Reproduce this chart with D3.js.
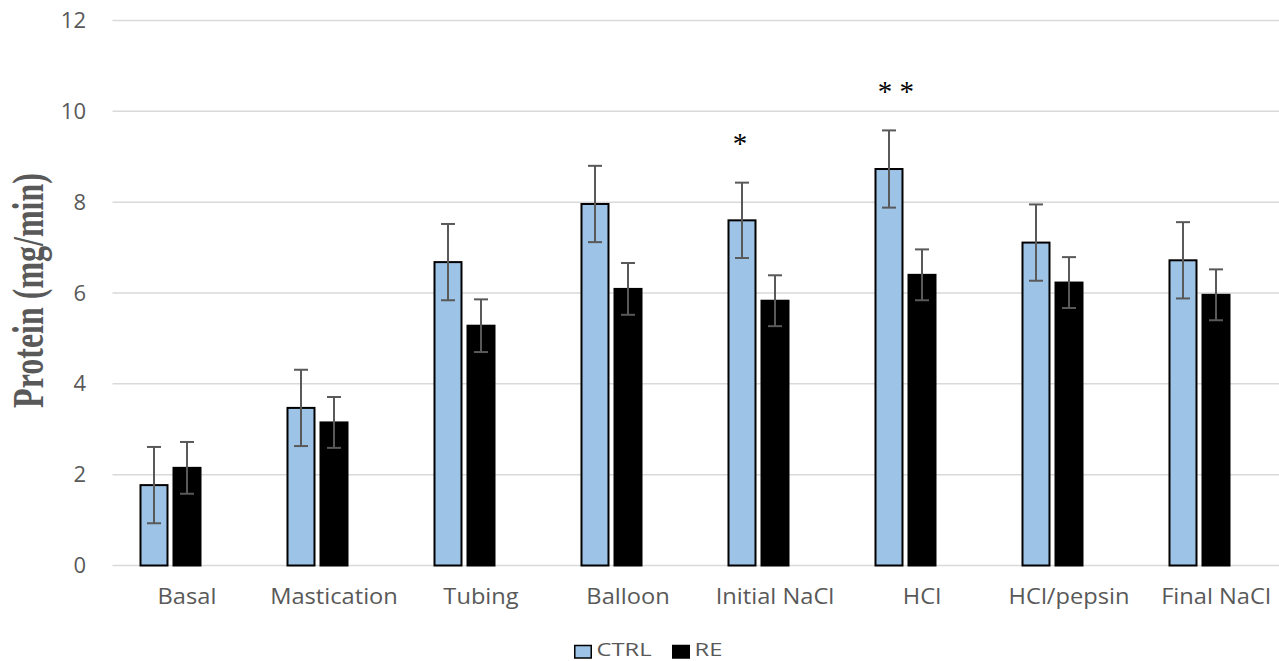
<!DOCTYPE html>
<html><head><meta charset="utf-8">
<script src="https://cdn.jsdelivr.net/npm/d3@7"></script>
<style>body{margin:0;background:#fff}svg{display:block}</style>
</head><body>
<svg id="c" width="1279" height="661"></svg>
<script>
const categories = ["Basal","Mastication","Tubing","Balloon","Initial NaCl","HCl","HCl/pepsin","Final NaCl"];
const ctrlValues = [1.77,3.47,6.68,7.96,7.60,8.73,7.11,6.72];
const ctrlErrors = [0.84,0.84,0.84,0.84,0.83,0.85,0.84,0.84];
const reValues = [2.15,3.15,5.28,6.09,5.83,6.40,6.23,5.96];
const reErrors = [0.57,0.56,0.58,0.57,0.56,0.56,0.56,0.56];
const yTicks = [0,2,4,6,8,10,12];
const seriesNames = ["CTRL","RE"];
const significance = [{cat:"Initial NaCl", label:"*", dx:-2},{cat:"HCl", label:"* *", dx:7}];

const svg = d3.select("#c");
const x = d3.scaleBand().domain(categories).range([113.5,1289.5]).paddingInner(0).paddingOuter(0);
const slots = d3.scaleBand().domain(["CTRL","RE","_"]).range([0,x.bandwidth()]).paddingOuter(0.727).paddingInner(0);
const y = d3.scaleLinear().domain([0,12]).range([565.5,20.5]);

// gridlines
svg.append("g").selectAll("line").data(yTicks).join("line")
  .attr("x1",112.5).attr("x2",1289).attr("y1",d=>y(d)).attr("y2",d=>y(d))
  .attr("stroke","#d9d9d9").attr("stroke-width",1.5);

// y axis labels
const yAxis = d3.axisLeft(y).tickValues(yTicks).tickSize(0).tickPadding(0);
const ga = svg.append("g").attr("transform","translate(86,0)").call(yAxis);
ga.select(".domain").remove();
ga.selectAll("text").attr("font-family","'Open Sans', sans-serif").attr("font-size",22).attr("fill","#595959");

// x axis labels
const xAxis = d3.axisBottom(x).tickSize(0).tickPadding(0);
const gx = svg.append("g").attr("transform","translate(0,604)").call(xAxis);
gx.select(".domain").remove();
gx.selectAll("text").attr("dy",0).attr("font-family","'Open Sans', sans-serif").attr("font-size",21.5)
  .attr("fill","#595959").attr("transform","scale(1.1,1)");

const bw = 27;
const data = [];
categories.forEach((c,i)=>{
  data.push({cat:c, s:"CTRL", v:ctrlValues[i], e:ctrlErrors[i]});
  data.push({cat:c, s:"RE", v:reValues[i], e:reErrors[i]});
});
const cx = d => x(d.cat) + slots(d.s) + slots.bandwidth()/2;

svg.append("g").selectAll("rect").data(data).join("rect")
  .attr("x",d=>cx(d)-bw/2).attr("width",bw)
  .attr("y",d=>y(d.v)).attr("height",d=>y(0)-y(d.v))
  .attr("fill",d=>d.s==="CTRL"?"#9dc3e6":"#000")
  .attr("stroke","#000").attr("stroke-width",2);

// error bars
const eb = svg.append("g").attr("stroke","#595959").attr("stroke-width",2);
eb.selectAll("line.v").data(data).join("line").attr("class","v")
  .attr("x1",cx).attr("x2",cx).attr("y1",d=>y(d.v+d.e)).attr("y2",d=>y(d.v-d.e));
eb.selectAll("line.t").data(data).join("line").attr("class","t")
  .attr("x1",d=>cx(d)-7).attr("x2",d=>cx(d)+7).attr("y1",d=>y(d.v+d.e)).attr("y2",d=>y(d.v+d.e));
eb.selectAll("line.b").data(data).join("line").attr("class","b")
  .attr("x1",d=>cx(d)-7).attr("x2",d=>cx(d)+7).attr("y1",d=>y(d.v-d.e)).attr("y2",d=>y(d.v-d.e));

// significance marks
svg.append("g").selectAll("text").data(significance).join("text")
  .attr("x",d=>x(d.cat)+slots("CTRL")+slots.bandwidth()/2 + d.dx)
  .attr("y",d=>{const i=categories.indexOf(d.cat); return y(ctrlValues[i]+ctrlErrors[i]) - 29.5;})
  .attr("text-anchor","middle")
  .attr("font-family","'Liberation Serif', serif").attr("font-size",29).attr("fill","#000")
  .text(d=>d.label);

// y axis title
svg.append("text").attr("transform","translate(42.5,290.5) scale(1.38,1) rotate(-90)")
  .attr("text-anchor","middle").attr("font-family","'Liberation Serif', serif")
  .attr("font-weight","bold").attr("font-size",32).attr("fill","#595959")
  .text("Protein (mg/min)");

// legend
const lg = svg.append("g").attr("transform","translate(574,650)");
const items = lg.selectAll("g").data(seriesNames).join("g")
  .attr("transform",(d,i)=>`translate(${i===0?0:98},0)`);
items.append("rect").attr("x",0.75).attr("y",-4.5).attr("width",16.5).attr("height",12.5)
  .attr("fill",d=>d==="CTRL"?"#9dc3e6":"#000").attr("stroke","#000").attr("stroke-width",1.5);
items.append("text").attr("transform","translate(22.5,5.5) scale(1.25,1)")
  .attr("font-family","'Open Sans', sans-serif").attr("font-size",19).attr("fill","#595959")
  .text(d=>d);
</script>
</body></html>
